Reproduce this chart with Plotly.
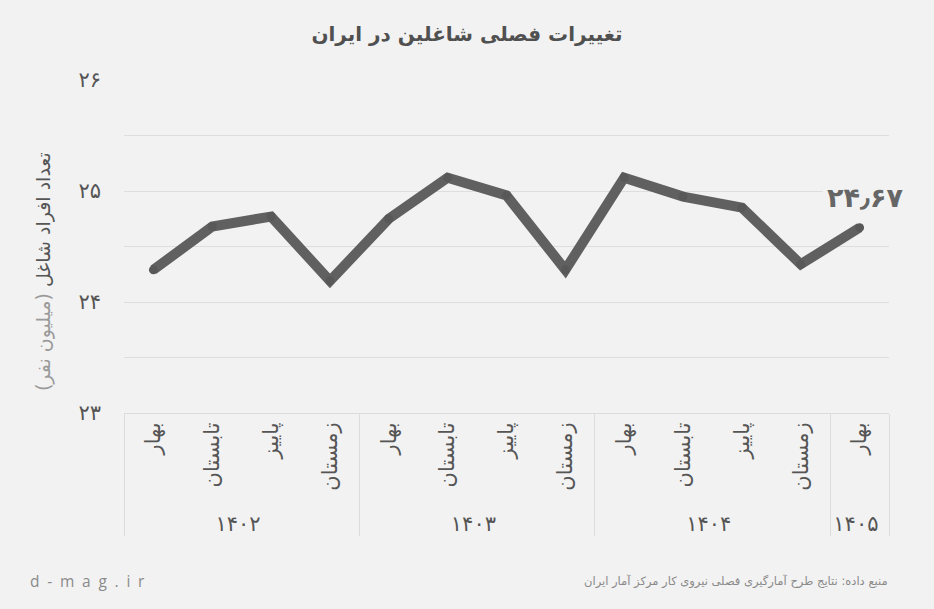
import plotly.graph_objects as go

years = ["۱۴۰۲"] * 4 + ["۱۴۰۳"] * 4 + ["۱۴۰۴"] * 4 + ["۱۴۰۵"]
seasons = ["بهار", "تابستان", "پاییز", "زمستان"] * 3 + ["بهار"]
employed = [24.29, 24.68, 24.77, 24.19, 24.75, 25.12, 24.96, 24.29,
            25.12, 24.95, 24.85, 24.34, 24.67]
y_tickvals = [23, 23.5, 24, 24.5, 25, 25.5, 26]
y_ticktext = ["۲۳", "", "۲۴", "", "۲۵", "", "۲۶"]
last_label = "۲۴٫۶۷"

BG = "#f2f2f2"
FONT = "DejaVu Sans"

fig = go.Figure()
fig.add_trace(go.Scatter(
    x=[years, seasons], y=employed, mode="lines+markers",
    line=dict(color="#606060", width=10),
    marker=dict(color="#585858", size=9),
    hoverinfo="skip", showlegend=False,
))

fig.add_annotation(
    x=len(employed) - 1, y=employed[-1], xref="x", yref="y",
    text=last_label, showarrow=False, xshift=6, yshift=30,
    font=dict(family=FONT, size=27, color="#666666", weight="bold"),
    bgcolor=BG, borderpad=4,
)

fig.add_annotation(
    x=-0.106, y=0.426, xref="paper", yref="paper", xanchor="center", yanchor="middle",
    textangle=-90, showarrow=False,
    text="تعداد افراد شاغل <span style='color:#9a9a9a'>(میلیون نفر)</span>",
    font=dict(family=FONT, size=19, color="#555555"),
)

fig.add_annotation(
    x=-0.125, y=-0.505, xref="paper", yref="paper", xanchor="left", yanchor="middle",
    text="\u2002".join(list("d-mag.ir")), showarrow=False,
    font=dict(family="Open Sans", size=15.5, color="#8a8a8a"),
)
fig.add_annotation(
    x=1.001, y=-0.505, xref="paper", yref="paper", xanchor="right", yanchor="middle",
    text="منبع داده: نتایج طرح آمارگیری فصلی نیروی کار مرکز آمار ایران", showarrow=False,
    font=dict(family=FONT, size=11.5, color="#8a8a8a"),
)

fig.update_layout(
    width=934, height=609,
    paper_bgcolor=BG, plot_bgcolor=BG,
    margin=dict(l=124, r=45, t=80, b=196),
    title=dict(text="<b>تغییرات فصلی شاغلین در ایران</b>", x=0.5, xanchor="center",
               y=0.944, yanchor="middle",
               font=dict(family=FONT, size=20, color="#505050")),
    xaxis=dict(
        type="multicategory", tickangle=-90, range=[-0.5, 12.5],
        tickfont=dict(family=FONT, size=21, color="#555555"),
        showdividers=True, dividercolor="#dcdcdc", dividerwidth=1,
        showline=True, linecolor="#dcdcdc", linewidth=1,
        showgrid=False, ticks="", zeroline=False,
    ),
    yaxis=dict(
        range=[23, 26], tickvals=y_tickvals, ticktext=y_ticktext,
        tickfont=dict(family=FONT, size=21, color="#555555"),
        gridcolor="#dedede", gridwidth=1, zeroline=False, showline=False,
        ticks="", ticklabelstandoff=22,
    ),
)

fig.write_html("out.html", config={"displayModeBar": False},
               post_script="document.body.style.margin='0';")
